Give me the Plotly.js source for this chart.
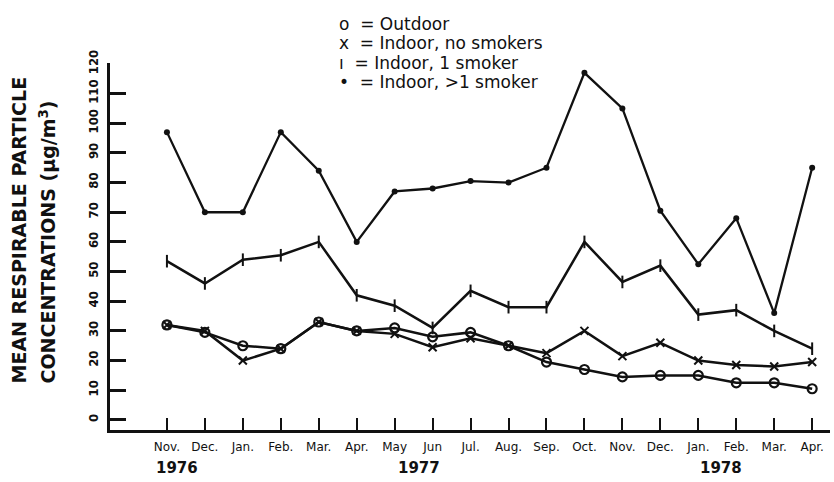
<!DOCTYPE html>
<html>
<head>
<meta charset="utf-8">
<script src="https://cdn.plot.ly/plotly-3.0.1.min.js"></script>
<style>html,body{margin:0;padding:0;background:#fff;}#chart{width:834px;height:482px;}</style>
</head>
<body>
<div id="chart"></div>
<script>
const months = ["Nov.","Dec.","Jan.","Feb.","Mar.","Apr.","May","Jun","Jul.","Aug.","Sep.","Oct.","Nov.","Dec.","Jan.","Feb.","Mar.","Apr."];
const years = ["1976","1977","1978"];
const outdoor =      [32, 29.5, 25, 24, 33, 30, 31, 28, 29.5, 25, 19.5, 17, 14.5, 15, 15, 12.5, 12.5, 10.5];
const noSmokers =    [32, 30, 20, 24, 33, 30, 29, 24.5, 27.5, 25, 22.5, 30, 21.5, 26, 20, 18.5, 18, 19.5];
const oneSmoker =    [53.5, 46, 54, 55.5, 60, 42, 38.5, 31, 43.5, 38, 38, 60, 46.5, 52, 35.5, 37, 30, 24];
const multiSmokers = [97, 70, 70, 97, 84, 60, 77, 78, 80.5, 80, 85, 117, 105, 70.5, 52.5, 68, 36, 85];
const yTicks = [0,10,20,30,40,50,60,70,80,90,100,110,120];
const yearPos = [0.26, 6.65, 14.6];
const legendLabels = ["o  = Outdoor", "x  = Indoor, no smokers", "ı  = Indoor, 1 smoker", "•  = Indoor, >1 smoker"];
const yTitleLines = ["MEAN RESPIRABLE PARTICLE", "CONCENTRATIONS (μg/m<sup>3</sup>)"];

const xs = months.map((m, i) => i);
const line = {color: "#111", width: 2.5};
const traces = [
  {x: xs, y: outdoor, mode: "lines+markers", line: line,
   marker: {symbol: "circle-open", size: 9, color: "#111", line: {width: 2.2}}},
  {x: xs, y: noSmokers, mode: "lines+markers", line: line,
   marker: {symbol: "x-thin-open", size: 8, color: "#111", line: {width: 2}}},
  {x: xs, y: oneSmoker, mode: "lines+markers", line: line,
   marker: {symbol: "line-ns-open", size: 9, color: "#111", line: {width: 2}}},
  {x: xs, y: multiSmokers, mode: "lines+markers", line: {color: "#111", width: 2.3},
   marker: {symbol: "circle", size: 6, color: "#111"}}
];

const font = "DejaVu Sans, Liberation Sans, sans-serif";
const condensed = "DejaVu Sans Condensed, Liberation Sans Narrow, DejaVu Sans, sans-serif";
const L = 110, T = 63, W = 834 - 110 - 4, H = 430 - 63;
const px = x => (x - L) / W, py = y => 1 - (y - T) / H;

const annotations = years.map((y, i) => ({
  x: yearPos[i], y: py(468), xref: "x", yref: "paper", yanchor: "middle",
  text: "<b>" + y + "</b>", showarrow: false, font: {family: font, size: 15, color: "#111"}
}));
legendLabels.forEach((t, i) => {
  annotations.push({x: px(337), y: py(24 + i * 19.5), xref: "paper", yref: "paper", showarrow: false,
    text: t, xanchor: "left", yanchor: "middle", font: {family: font, size: 17, color: "#111"}});
});
const titleX = [18, 47];
yTitleLines.forEach((t, i) => {
  annotations.push({x: px(titleX[i]), y: py(386), xref: "paper", yref: "paper", showarrow: false,
    text: "<b>" + t + "</b>", textangle: -90, xanchor: "center", yanchor: "bottom",
    font: {family: font, size: 19, color: "#111"}});
});

const layout = {
  width: 834, height: 482,
  margin: {l: 110, r: 4, t: 63, b: 52},
  paper_bgcolor: "#fff", plot_bgcolor: "#fff",
  showlegend: false,
  font: {family: font, color: "#111"},
  xaxis: {
    range: [-1.5, 17.47], tickvals: xs, ticktext: months, showgrid: false, zeroline: false,
    showline: true, linecolor: "#111", linewidth: 3,
    ticks: "inside", ticklen: 12, tickwidth: 2, tickcolor: "#111", ticklabelstandoff: 4,
    tickfont: {family: font, size: 12, color: "#111"}
  },
  yaxis: {
    range: [-3.4, 120.3], tickvals: yTicks, tickangle: -90,
    showgrid: false, zeroline: false, showline: true, linecolor: "#111", linewidth: 3,
    ticks: "inside", ticklen: 16, tickwidth: 3, tickcolor: "#111", ticklabelstandoff: 4,
    tickfont: {family: condensed, size: 13, weight: "bold", color: "#111"}
  },
  annotations: annotations
};

Plotly.newPlot("chart", traces, layout, {staticPlot: true, displayModeBar: false});
</script>
</body>
</html>
